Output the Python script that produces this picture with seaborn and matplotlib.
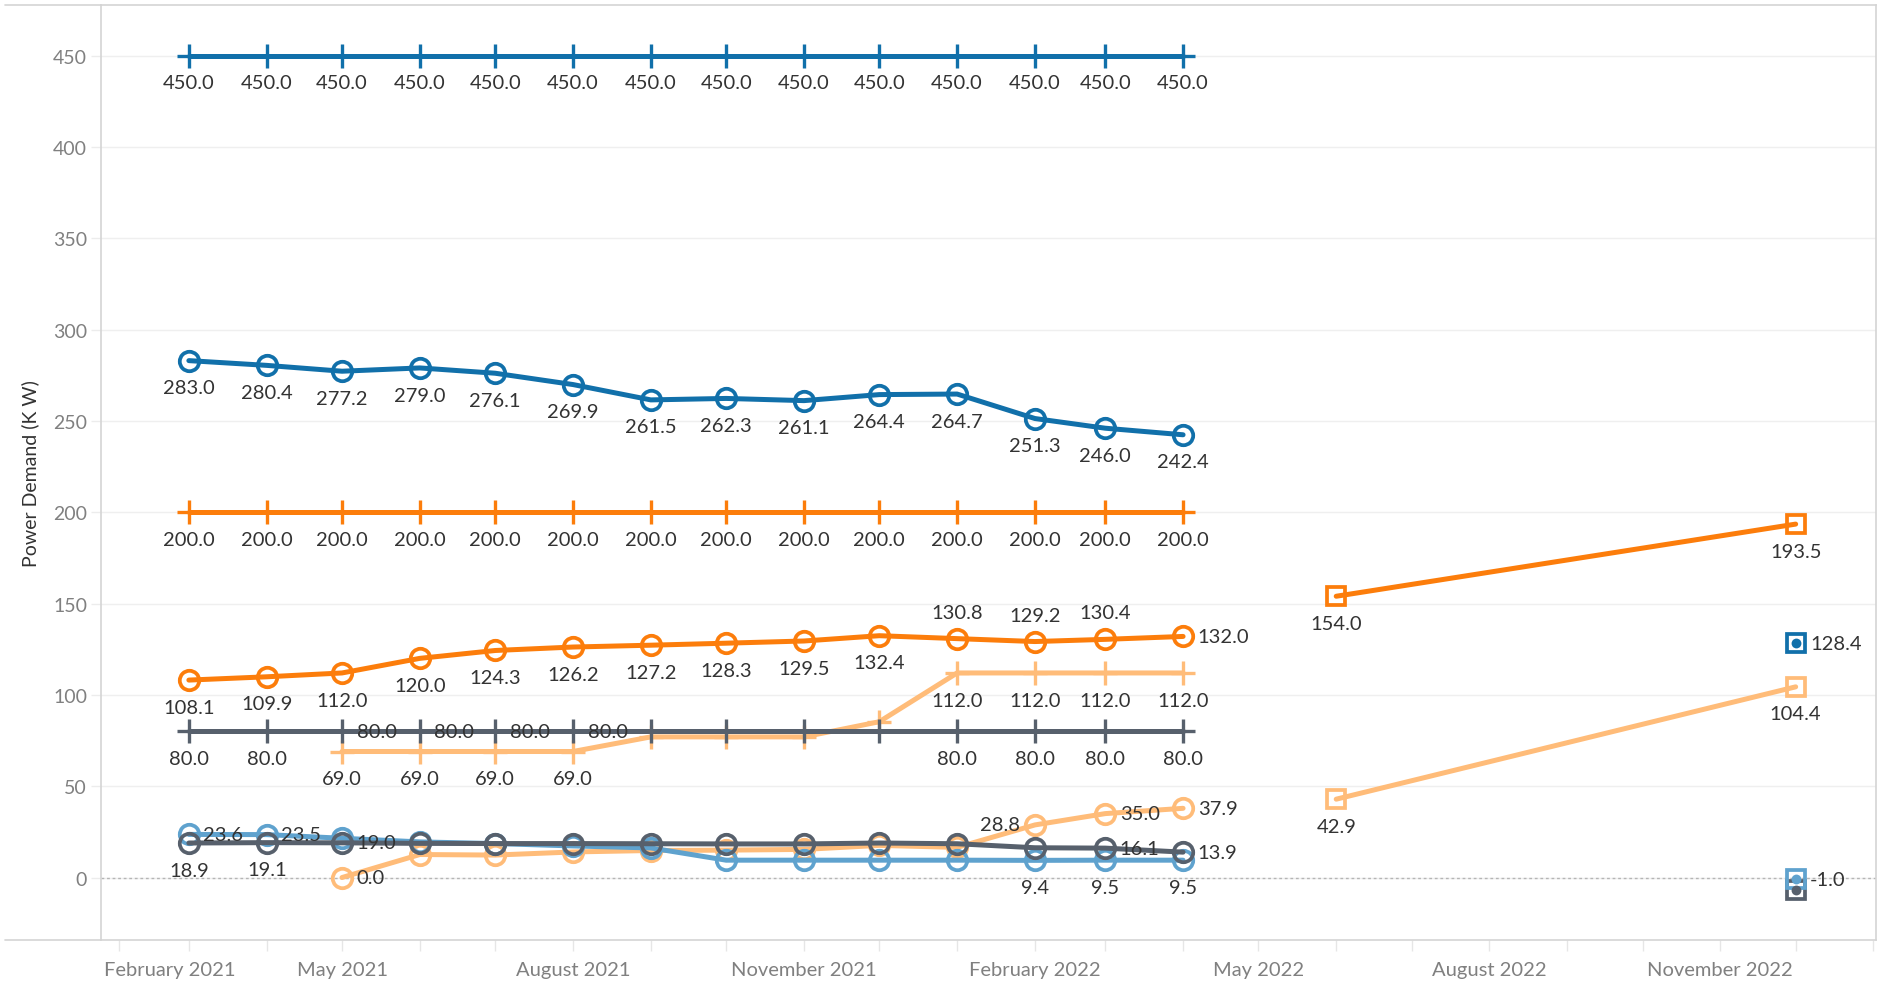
import matplotlib
matplotlib.use("Agg")
import matplotlib.pyplot as plt
import matplotlib.dates as mdates
import matplotlib.transforms as mtransforms
from matplotlib.lines import Line2D
import pandas as pd
import seaborn as sns

# ---- data -------------------------------------------------------------
months = pd.to_datetime([
    "2021-03-01", "2021-04-01", "2021-05-01", "2021-06-01", "2021-07-01",
    "2021-08-01", "2021-09-01", "2021-10-01", "2021-11-01", "2021-12-01",
    "2022-01-01", "2022-02-01", "2022-03-01", "2022-04-01",
])
months_from_may = months[2:]
forecast_months = pd.to_datetime(["2022-06-01", "2022-12-01"])
year_end = pd.to_datetime(["2022-12-01"])

blue_limit = [450.0, 450.0, 450.0, 450.0, 450.0, 450.0, 450.0,
              450.0, 450.0, 450.0, 450.0, 450.0, 450.0, 450.0]
blue_demand = [283.0, 280.4, 277.2, 279.0, 276.1, 269.9, 261.5,
               262.3, 261.1, 264.4, 264.7, 251.3, 246.0, 242.4]
blue_forecast = [128.4]

orange_limit = [200.0, 200.0, 200.0, 200.0, 200.0, 200.0, 200.0,
                200.0, 200.0, 200.0, 200.0, 200.0, 200.0, 200.0]
orange_demand = [108.1, 109.9, 112.0, 120.0, 124.3, 126.2, 127.2,
                 128.3, 129.5, 132.4, 130.8, 129.2, 130.4, 132.0]
orange_forecast = [154.0, 193.5]

peach_limit = [69.0, 69.0, 69.0, 69.0, 77.0, 77.0, 77.0,
               85.3, 112.0, 112.0, 112.0, 112.0]
peach_demand = [0.0, 12.6, 12.3, 14.0, 14.8, 15.0, 15.4,
                17.6, 16.5, 28.8, 35.0, 37.9]
peach_forecast = [42.9, 104.4]

gray_limit = [80.0, 80.0, 80.0, 80.0, 80.0, 80.0, 80.0,
              80.0, 80.0, 80.0, 80.0, 80.0, 80.0, 80.0]
gray_demand = [18.9, 19.1, 19.0, 18.7, 18.6, 18.6, 18.5,
               18.4, 18.4, 18.9, 18.5, 16.3, 16.1, 13.9]
gray_forecast = [-7.0]

sky_demand = [23.6, 23.5, 21.5, 19.5, 18.6, 17.3, 16.2,
              9.5, 9.5, 9.5, 9.5, 9.4, 9.5, 9.5]
sky_forecast = [-1.0]

xtick_dates = pd.to_datetime([
    "2021-02-01", "2021-05-01", "2021-08-01", "2021-11-01",
    "2022-02-01", "2022-05-01", "2022-08-01", "2022-11-01",
])
xtick_labels = ["February 2021", "May 2021", "August 2021", "November 2021",
                "February 2022", "May 2022", "August 2022", "November 2022"]

BLUE = "#1170aa"
ORANGE = "#fc7d0b"
PEACH = "#ffbc79"
GRAY = "#57606c"
SKY = "#5fa2ce"

# ---- figure -----------------------------------------------------------
sns.set_theme(style="white")
plt.rcParams["font.family"] = ["Lato", "DejaVu Sans"]

W, H = 1887, 987
fig = plt.figure(figsize=(W / 100, H / 100), dpi=100)
ax = fig.add_axes([101 / W, (H - 941) / H, (1876 - 101) / W, (941 - 6) / H])

LW = 3.6


def limit_line(x, y, color):
    sns.lineplot(x=x, y=y, ax=ax, color=color, lw=LW, marker="+",
                 markersize=17, markeredgewidth=2.4, markeredgecolor=color,
                 zorder=3)


def demand_line(x, y, color):
    sns.lineplot(x=x, y=y, ax=ax, color=color, lw=LW, marker="o",
                 markersize=14, markeredgewidth=2.7, markeredgecolor=color,
                 markerfacecolor="none", zorder=3)


def forecast_line(x, y, color, dot=False):
    sns.lineplot(x=x, y=y, ax=ax, color=color, lw=LW, marker="s",
                 markersize=13.5, markeredgewidth=2.7, markeredgecolor=color,
                 markerfacecolor="none", zorder=3)
    if dot:
        sns.scatterplot(x=x, y=y, ax=ax, color=color, s=50, linewidth=0,
                        zorder=4)


limit_line(months, blue_limit, BLUE)
demand_line(months, blue_demand, BLUE)
forecast_line(year_end, blue_forecast, BLUE, dot=True)

limit_line(months, orange_limit, ORANGE)
demand_line(months, orange_demand, ORANGE)
forecast_line(forecast_months, orange_forecast, ORANGE)

limit_line(months_from_may, peach_limit, PEACH)
limit_line(months, gray_limit, GRAY)
demand_line(months_from_may, peach_demand, PEACH)
forecast_line(forecast_months, peach_forecast, PEACH)

demand_line(months, sky_demand, SKY)
demand_line(months, gray_demand, GRAY)
forecast_line(year_end, gray_forecast, GRAY, dot=True)
forecast_line(year_end, sky_forecast, SKY, dot=True)

# ---- value labels -----------------------------------------------------
OFFSETS = {
    "b": ((0, -19.5), "center", "center"),
    "a": ((0, 19), "center", "center"),
    "r": ((10.5, 0), "left", "center"),
    "l": ((-10.5, 0), "right", "center"),
}


def labels(x, y, places):
    for xi, yi, p in zip(x, y, places):
        if p == "-":
            continue
        off, ha, va = OFFSETS[p]
        ax.annotate(f"{yi:.1f}", (xi, yi), xytext=off,
                    textcoords="offset points", ha=ha, va=va,
                    fontsize=14.5, color="#333333", zorder=6)


labels(months, blue_limit, "b" * 14)
labels(months, blue_demand, "b" * 14)
labels(year_end, blue_forecast, "r")
labels(months, orange_limit, "b" * 14)
labels(months, orange_demand, "bbbbbbbbbbaaar")
labels(forecast_months, orange_forecast, "bb")
labels(months_from_may, peach_limit, "bbbb----bbbb")
labels(months, gray_limit, "bbrrrr----bbbb")
labels(months_from_may, peach_demand, "r--------lrr")
labels(forecast_months, peach_forecast, "bb")
labels(months, gray_demand, "bbr---------rr")
labels(months, sky_demand, "rr---------bbb")
labels(year_end, sky_forecast, "r")

# ---- axes styling -----------------------------------------------------
ax.set_ylim(-34.2, 477.7)
ax.set_xlim(pd.Timestamp("2021-01-25"), pd.Timestamp("2023-01-02"))
ax.set_yticks([0, 50, 100, 150, 200, 250, 300, 350, 400, 450])
ax.set_xticks(xtick_dates)
ax.set_xticklabels(xtick_labels)
ax.xaxis.set_minor_locator(mdates.MonthLocator())
ax.axhline(0, color="#b5b5b5", lw=1, ls=(0, (2, 2)), zorder=1)
ax.yaxis.grid(True, color="#efefef", lw=1)
ax.xaxis.grid(False)
ax.set_axisbelow(True)
ax.set_xlabel("")
ax.set_ylabel("Power Demand (K W)", fontsize=14, color="#333333", labelpad=10)

ax.tick_params(axis="y", length=7, width=1, color="#ececec", labelsize=14,
               labelcolor="#808080", pad=3, left=True)
ax.tick_params(axis="x", which="both", length=8, width=1, color="#e6e6e6",
               labelsize=14.5, labelcolor="#808080", pad=7, bottom=True)
for side in ["top", "bottom", "left", "right"]:
    ax.spines[side].set_color("#d4d4d4")
    ax.spines[side].set_linewidth(1.2)

first = ax.get_xticklabels()[0]
first.set_horizontalalignment("left")
first.set_transform(first.get_transform()
                    + mtransforms.ScaledTranslation(-0.15, 0, fig.dpi_scale_trans))

# outer frame stubs left of the plot area
for yy in [6, 941]:
    fig.add_artist(Line2D([5 / W, 101 / W], [(H - yy) / H] * 2,
                          color="#d4d4d4", lw=1.2))

fig.savefig("out.png", dpi=100)
